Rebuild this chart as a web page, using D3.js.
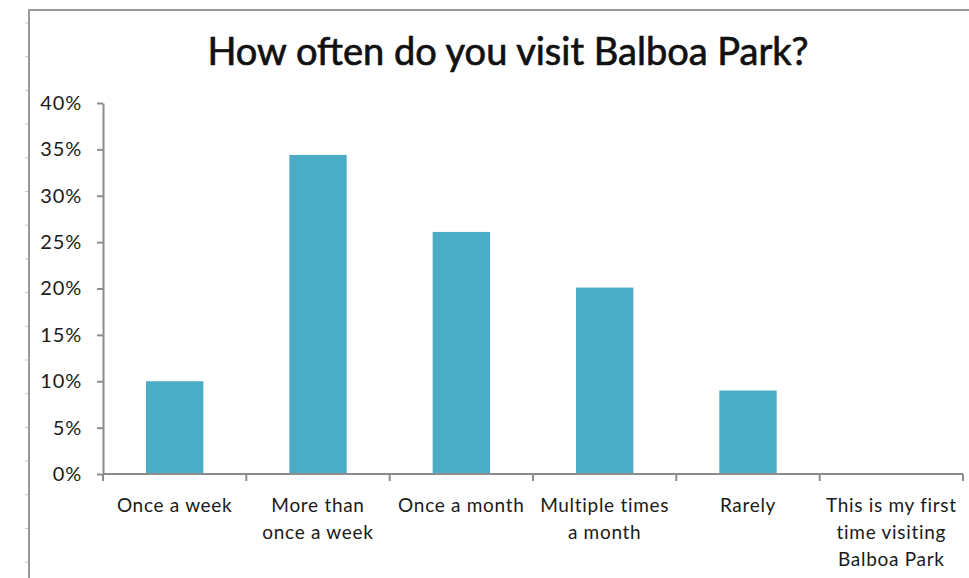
<!DOCTYPE html>
<html><head><meta charset="utf-8">
<script src="https://cdn.jsdelivr.net/npm/d3@7"></script>
<style>html,body{margin:0;padding:0;background:#fff;}svg{display:block;}</style>
</head><body>
<svg id="c" width="969" height="578"></svg>
<script>
const categories = [
  ["Once a week"],
  ["More than", "once a week"],
  ["Once a month"],
  ["Multiple times", "a month"],
  ["Rarely"],
  ["This is my first", "time visiting", "Balboa Park"]
];
const values = [0.100, 0.344, 0.261, 0.201, 0.090, 0.0];
const yTicks = [0, 0.05, 0.10, 0.15, 0.20, 0.25, 0.30, 0.35, 0.40];
const title = "How often do you visit Balboa Park?";

const svg = d3.select("#c");
const W = 969, H = 578;
const m = {left: 103, right: 6, top: 103, bottom: 104};
const FF = "Lato, 'Open Sans', sans-serif";

// frame
svg.append("line").attr("x1", 29).attr("x2", 29).attr("y1", 10).attr("y2", H).attr("stroke", "#9a9a9a").attr("stroke-width", 2);
svg.append("line").attr("x1", 28).attr("x2", W).attr("y1", 10).attr("y2", 10).attr("stroke", "#9a9a9a").attr("stroke-width", 2);
for (let yy = 23; yy < H; yy += 33.7) {
  svg.append("line").attr("x1", 25).attr("x2", 28).attr("y1", yy).attr("y2", yy).attr("stroke", "#c8c8c8").attr("stroke-width", 1);
}

const x = d3.scaleBand().domain(d3.range(categories.length)).range([m.left, W - m.right]).paddingInner(0).paddingOuter(0);
const y = d3.scaleLinear().domain([0, 0.40]).range([H - m.bottom, m.top]);

svg.append("text").attr("x", 508).attr("y", 65).attr("text-anchor", "middle")
  .attr("font-family", FF).attr("font-size", 38).attr("font-weight", 400)
  .attr("fill", "#111").attr("stroke", "#111").attr("stroke-width", 0.7)
  .text(title);

// bars
const bw = x.bandwidth() * 0.4;
svg.selectAll("rect.bar").data(values).enter().append("rect")
  .attr("x", (d, i) => x(i) + (x.bandwidth() - bw) / 2)
  .attr("width", bw)
  .attr("y", d => y(d))
  .attr("height", d => y(0) - y(d))
  .attr("fill", "#4bacc6");

// y axis
const yAxis = d3.axisLeft(y).tickValues(yTicks).tickFormat(d3.format(".0%")).tickSize(6).tickSizeOuter(0);
const gy = svg.append("g").attr("transform", `translate(${m.left},0)`).call(yAxis);
gy.select(".domain").attr("stroke", "#8c8c8c").attr("stroke-width", 2);
gy.selectAll(".tick line").attr("stroke", "#8c8c8c").attr("stroke-width", 2);
gy.selectAll(".tick text").attr("font-family", FF).attr("font-size", 20).attr("letter-spacing", 0.8).attr("fill", "#1a1a1a").attr("x", -21);

// x axis
const gx = svg.append("g").attr("transform", `translate(0,${y(0)})`);
gx.append("line").attr("x1", m.left).attr("x2", W - m.right).attr("stroke", "#8c8c8c").attr("stroke-width", 2);
const bounds = d3.range(categories.length + 1).map(i => i < categories.length ? x(i) : x(categories.length - 1) + x.bandwidth());
gx.selectAll("line.t").data(bounds).enter().append("line")
  .attr("x1", d => d).attr("x2", d => d).attr("y1", 0).attr("y2", 7)
  .attr("stroke", "#8c8c8c").attr("stroke-width", 2);
categories.forEach((lines, i) => {
  const t = gx.append("text").attr("text-anchor", "middle")
    .attr("font-family", FF).attr("font-size", 19).attr("letter-spacing", 0.7).attr("fill", "#1a1a1a");
  lines.forEach((ln, j) => {
    t.append("tspan").attr("x", x(i) + x.bandwidth() / 2).attr("y", 38 + j * 27).text(ln);
  });
});
</script>
</body></html>
